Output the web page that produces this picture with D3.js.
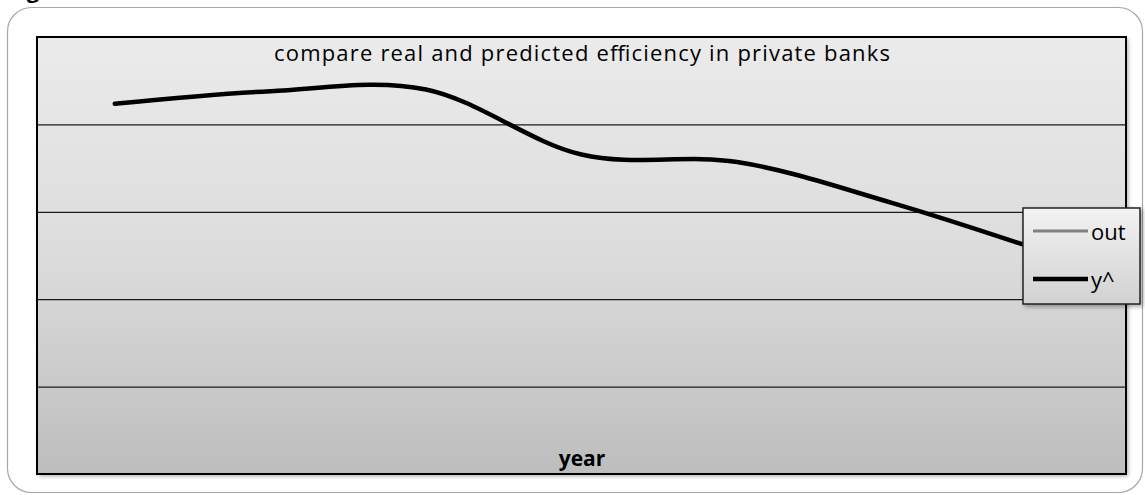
<!DOCTYPE html>
<html>
<head>
<meta charset="utf-8">
<script src="https://cdn.jsdelivr.net/npm/d3@7"></script>
<style>
  html, body { margin: 0; padding: 0; background: #fff; }
  svg { display: block; }
  text { font-family: "Open Sans", "Noto Sans", sans-serif; }
</style>
</head>
<body>
<svg id="chart" width="1145" height="495"></svg>
<script>
// Years on the x axis (labels are not shown on the chart)
const years = ["1", "2", "3", "4", "5", "6", "7"];
// Real efficiency ("out") – no values plotted
const outValues = [null, null, null, null, null, null, null];
// Predicted efficiency ("y^")
const predValues = [0.847, 0.876, 0.880, 0.731, 0.714, 0.620, 0.506];
// Gridline positions on the value axis
const yTicks = [0.2, 0.4, 0.6, 0.8];

const svg = d3.select("#chart");
const plot = { left: 37, top: 37, right: 1126, bottom: 474 };

const defs = svg.append("defs");
const bgGrad = defs.append("linearGradient").attr("id", "bg").attr("x1", 0).attr("y1", 0).attr("x2", 0).attr("y2", 1);
bgGrad.append("stop").attr("offset", "0%").attr("stop-color", "#ebebeb");
bgGrad.append("stop").attr("offset", "50%").attr("stop-color", "#dcdcdc");
bgGrad.append("stop").attr("offset", "100%").attr("stop-color", "#bdbdbd");
const lgGrad = defs.append("linearGradient").attr("id", "lg").attr("x1", 0).attr("y1", 0).attr("x2", 0).attr("y2", 1);
lgGrad.append("stop").attr("offset", "0%").attr("stop-color", "#f2f2f2");
lgGrad.append("stop").attr("offset", "100%").attr("stop-color", "#d2d2d2");
const shadow = defs.append("filter").attr("id", "shadow").attr("x", "-10%").attr("y", "-10%").attr("width", "130%").attr("height", "130%");
shadow.append("feDropShadow").attr("dx", 2).attr("dy", 2).attr("stdDeviation", 2).attr("flood-color", "#000").attr("flood-opacity", 0.35);

// Caption above the frame (only its descender shows)
svg.append("text").attr("x", 8).attr("y", -2)
  .attr("font-size", 22).attr("font-weight", "bold").attr("fill", "#000")
  .text("Figure");

// Outer chart frame
svg.append("rect").attr("x", 7.5).attr("y", 7.5).attr("width", 1135).attr("height", 485)
  .attr("rx", 24).attr("ry", 24).attr("fill", "#fff").attr("stroke", "#a6a6a6").attr("stroke-width", 1.2);

const x = d3.scalePoint().domain(years).range([plot.left, plot.right]).padding(0.5);
const y = d3.scaleLinear().domain([0, 1]).range([plot.bottom, plot.top]);

// Plot area
svg.append("rect").attr("x", plot.left).attr("y", plot.top)
  .attr("width", plot.right - plot.left).attr("height", plot.bottom - plot.top)
  .attr("fill", "url(#bg)").attr("filter", "url(#shadow)");

// Horizontal gridlines
const yAxis = d3.axisLeft(y).tickValues(yTicks).tickSize(-(plot.right - plot.left)).tickFormat("");
const gAxis = svg.append("g").attr("transform", `translate(${plot.left},0)`).call(yAxis);
gAxis.select(".domain").remove();
gAxis.selectAll(".tick line").attr("stroke", "#1a1a1a").attr("stroke-width", 1.3);

// Plot border
svg.append("rect").attr("x", plot.left).attr("y", plot.top)
  .attr("width", plot.right - plot.left).attr("height", plot.bottom - plot.top)
  .attr("fill", "none").attr("stroke", "#000").attr("stroke-width", 2);

// Title
svg.append("text").attr("x", 582).attr("y", 61).attr("text-anchor", "middle")
  .attr("font-size", 22).attr("fill", "#000")
  .attr("textLength", 616).attr("lengthAdjust", "spacing")
  .text("compare real and predicted efficiency in private banks");

// Axis title
svg.append("text").attr("x", 582).attr("y", 466).attr("text-anchor", "middle")
  .attr("font-size", 21).attr("font-weight", "bold").attr("fill", "#000")
  .text("year");

// Series lines
const line = (vals) => d3.line()
  .defined((d) => d != null)
  .x((d, i) => x(years[i]))
  .y((d) => y(d))
  .curve(d3.curveCardinal.tension(0))(vals);

svg.append("path").attr("d", line(outValues))
  .attr("fill", "none").attr("stroke", "#808080").attr("stroke-width", 3);
svg.append("path").attr("d", line(predValues))
  .attr("fill", "none").attr("stroke", "#000").attr("stroke-width", 4.5)
  .attr("stroke-linecap", "round").attr("stroke-linejoin", "round");

// Legend
const lg = svg.append("g").attr("transform", "translate(1023,208)");
lg.append("rect").attr("width", 117).attr("height", 96)
  .attr("fill", "url(#lg)").attr("stroke", "#222").attr("stroke-width", 1.5)
  .attr("filter", "url(#shadow)");
const items = [
  { name: "out", color: "#808080", width: 3, yy: 23 },
  { name: "y^", color: "#000", width: 4.5, yy: 71 }
];
items.forEach((it) => {
  lg.append("line").attr("x1", 10).attr("x2", 65).attr("y1", it.yy).attr("y2", it.yy)
    .attr("stroke", it.color).attr("stroke-width", it.width);
  lg.append("text").attr("x", 68).attr("y", it.yy + 9).attr("font-size", 22).attr("fill", "#000").text(it.name);
});
</script>
</body>
</html>
